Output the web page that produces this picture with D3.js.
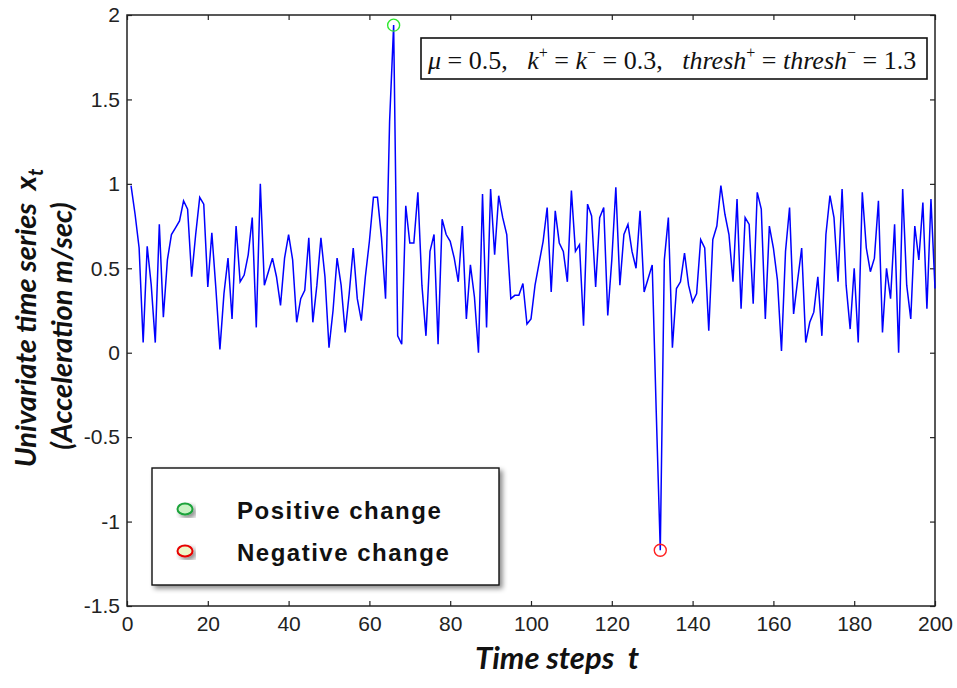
<!DOCTYPE html>
<html>
<head>
<meta charset="utf-8">
<script src="https://cdn.jsdelivr.net/npm/d3@7"></script>
<style>
  body { margin: 0; background: #fff; }
</style>
</head>
<body>
<div id="chart"></div>
<script>
// acceleration samples, t = 1 .. 200
const values = [
  0.99, 0.82, 0.62, 0.06, 0.63, 0.40, 0.06, 0.76, 0.21, 0.55,
  0.70, 0.74, 0.78, 0.90, 0.85, 0.45, 0.70, 0.92, 0.88, 0.39,
  0.71, 0.38, 0.02, 0.35, 0.56, 0.20, 0.75, 0.42, 0.46, 0.58,
  0.80, 0.15, 1.00, 0.40, 0.48, 0.56, 0.45, 0.28, 0.56, 0.70,
  0.55, 0.18, 0.32, 0.37, 0.68, 0.18, 0.40, 0.68, 0.45, 0.03,
  0.25, 0.56, 0.40, 0.12, 0.35, 0.62, 0.32, 0.19, 0.45, 0.66,
  0.92, 0.92, 0.68, 0.32, 1.37, 1.94, 0.10, 0.05, 0.87, 0.65,
  0.65, 0.95, 0.40, 0.10, 0.60, 0.70, 0.05, 0.79, 0.70, 0.66,
  0.56, 0.42, 0.75, 0.20, 0.52, 0.33, 0.00, 0.94, 0.15, 0.97,
  0.58, 0.93, 0.80, 0.70, 0.32, 0.34, 0.34, 0.41, 0.17, 0.20,
  0.40, 0.53, 0.66, 0.86, 0.36, 0.84, 0.65, 0.60, 0.42, 0.96,
  0.60, 0.64, 0.16, 0.88, 0.81, 0.39, 0.80, 0.86, 0.22, 0.55,
  0.98, 0.40, 0.70, 0.76, 0.60, 0.50, 0.84, 0.36, 0.44, 0.52,
  -0.35, -1.17, 0.55, 0.80, 0.03, 0.38, 0.42, 0.59, 0.40, 0.30,
  0.35, 0.67, 0.62, 0.13, 0.67, 0.75, 0.99, 0.82, 0.70, 0.42,
  0.91, 0.26, 0.80, 0.76, 0.29, 0.95, 0.85, 0.20, 0.75, 0.62,
  0.43, 0.01, 0.60, 0.86, 0.23, 0.43, 0.62, 0.06, 0.18, 0.24,
  0.45, 0.10, 0.70, 0.93, 0.80, 0.42, 0.97, 0.40, 0.14, 0.50,
  0.06, 0.95, 0.62, 0.48, 0.56, 0.90, 0.12, 0.50, 0.32, 0.76,
  0.00, 0.97, 0.40, 0.20, 0.75, 0.55, 0.89, 0.26, 0.91, 0.38
]

const xTicks = [0, 20, 40, 60, 80, 100, 120, 140, 160, 180, 200]
const yTicks = [2, 1.5, 1, 0.5, 0, -0.5, -1, -1.5]

// detected change points
const changeSteps = [66, 132]
const changeValues = [1.94, -1.17]
const changeColors = ["#2ee82e", "#ff2020"]

const legendLabels = ["Positive change", "Negative change"]
const legendStroke = ["#1aa23a", "#e80000"]
const legendFill = ["#c9f2c4", "#eef6c8"]

const width = 957
const height = 688

const x = d3.scaleLinear().domain([0, 200]).range([127, 935])
const y = d3.scaleLinear().domain([-1.5, 2]).range([606, 15])

const svg = d3.select("#chart")
  .append("svg")
  .attr("width", width)
  .attr("height", height)
  .style("font-family", "'Liberation Sans', Arial, sans-serif")

const defs = svg.append("defs")
const shadow = defs.append("filter")
  .attr("id", "shadow")
  .attr("x", "-10%").attr("y", "-10%")
  .attr("width", "130%").attr("height", "140%")
shadow.append("feDropShadow")
  .attr("dx", 3).attr("dy", 3)
  .attr("stdDeviation", 2.5)
  .attr("flood-color", "#000")
  .attr("flood-opacity", 0.45)

svg.append("rect")
  .attr("x", x(0)).attr("y", y(2))
  .attr("width", x(200) - x(0)).attr("height", y(-1.5) - y(2))
  .attr("fill", "#fff")

// axes, ticks pointing inward like matlab
const fmt = d => String(d)

svg.append("g")
  .attr("transform", `translate(0,${y(-1.5)})`)
  .call(d3.axisBottom(x).tickValues(xTicks).tickFormat(fmt).tickSize(-5).tickSizeOuter(0).tickPadding(10))
svg.append("g")
  .attr("transform", `translate(${x(0)},0)`)
  .call(d3.axisLeft(y).tickValues(yTicks).tickFormat(fmt).tickSize(-5).tickSizeOuter(0).tickPadding(7))
svg.append("g")
  .attr("transform", `translate(0,${y(2)})`)
  .call(d3.axisTop(x).tickValues(xTicks).tickFormat("").tickSize(-5).tickSizeOuter(0))
svg.append("g")
  .attr("transform", `translate(${x(200)},0)`)
  .call(d3.axisRight(y).tickValues(yTicks).tickFormat("").tickSize(-5).tickSizeOuter(0))

svg.selectAll(".domain").remove()
svg.selectAll(".tick line").attr("stroke", "#222").attr("stroke-width", 1.2)
svg.selectAll(".tick text")
  .attr("fill", "#222")
  .style("font-size", "21px")
  .style("font-family", "'Liberation Sans', Arial, sans-serif")

svg.append("rect")
  .attr("x", x(0)).attr("y", y(2))
  .attr("width", x(200) - x(0)).attr("height", y(-1.5) - y(2))
  .attr("fill", "none")
  .attr("stroke", "#222")
  .attr("stroke-width", 1.5)

// series
const line = d3.line()
  .x((d, i) => x(i + 1))
  .y(d => y(d))

svg.append("path")
  .datum(values)
  .attr("d", line)
  .attr("fill", "none")
  .attr("stroke", "#0000ff")
  .attr("stroke-width", 1.5)

svg.append("g")
  .selectAll("circle")
  .data(changeSteps)
  .join("circle")
  .attr("cx", d => x(d))
  .attr("cy", (d, i) => y(changeValues[i]))
  .attr("r", 6)
  .attr("fill", "none")
  .attr("stroke", (d, i) => changeColors[i])
  .attr("stroke-width", 1.4)

// parameter box
svg.append("rect")
  .attr("x", 421).attr("y", 38)
  .attr("width", 506).attr("height", 41)
  .attr("fill", "#fff")
  .attr("stroke", "#111")
  .attr("stroke-width", 1.6)

const note = svg.append("text")
  .attr("x", 428).attr("y", 69)
  .style("font-family", "'Liberation Serif', 'Times New Roman', serif")
  .style("font-size", "26px")
  .style("white-space", "pre")
  .attr("fill", "#111")

const parts = [
  ["μ", "i"], [" = 0.5,   ", ""],
  ["k", "i"], ["+", "sup"], [" = ", ""], ["k", "i"], ["−", "sup"], [" = 0.3,   ", ""],
  ["thresh", "i"], ["+", "sup"], [" = ", ""], ["thresh", "i"], ["−", "sup"], [" = 1.3", ""]
]
let raised = false
parts.forEach(([t, kind]) => {
  const ts = note.append("tspan").text(t)
  if (kind === "i") ts.style("font-style", "italic")
  if (kind === "sup") {
    ts.attr("dy", -11).style("font-size", "16px")
    raised = true
  } else if (raised) {
    ts.attr("dy", 11)
    raised = false
  }
})

// legend
const legend = svg.append("g")
legend.append("rect")
  .attr("x", 152).attr("y", 468)
  .attr("width", 347).attr("height", 117)
  .attr("fill", "#fff")
  .attr("stroke", "#111")
  .attr("stroke-width", 1.4)
  .attr("filter", "url(#shadow)")

const items = legend.selectAll("g.item")
  .data(legendLabels)
  .join("g")
  .attr("class", "item")
  .attr("transform", (d, i) => `translate(0,${509 + i * 42})`)

items.append("ellipse")
  .attr("cx", 185).attr("cy", 0)
  .attr("rx", 7.5).attr("ry", 5.5)
  .attr("fill", (d, i) => legendFill[i])
  .attr("stroke", (d, i) => legendStroke[i])
  .attr("stroke-width", 2)
  .attr("filter", "url(#shadow)")

items.append("text")
  .attr("x", 237).attr("y", 10)
  .text(d => d)
  .style("font-size", "24px")
  .style("font-weight", "bold")
  .style("letter-spacing", "1.5px")
  .attr("fill", "#111")

// axis titles
const titleFont = "Lato, 'Open Sans', sans-serif"

const yTitle1 = svg.append("text")
  .attr("transform", "translate(36,318) rotate(-90)")
  .attr("text-anchor", "middle")
  .style("font-family", titleFont)
  .style("font-size", "29px")
  .style("font-weight", "bold")
  .style("font-style", "italic")
  .style("white-space", "pre")
  .attr("fill", "#111")
yTitle1.append("tspan").text("Univariate time series  x")
yTitle1.append("tspan").text("t").attr("dy", 7).style("font-size", "20px")

svg.append("text")
  .attr("transform", "translate(72,326) rotate(-90)")
  .attr("text-anchor", "middle")
  .style("font-family", titleFont)
  .style("font-size", "29px")
  .style("font-weight", "bold")
  .style("font-style", "italic")
  .attr("fill", "#111")
  .text("(Acceleration m/sec)")

svg.append("text")
  .attr("x", 557).attr("y", 669)
  .attr("text-anchor", "middle")
  .style("font-family", titleFont)
  .style("font-size", "31px")
  .style("font-weight", "bold")
  .style("font-style", "italic")
  .style("white-space", "pre")
  .attr("fill", "#111")
  .text("Time steps  t")
</script>
</body>
</html>
